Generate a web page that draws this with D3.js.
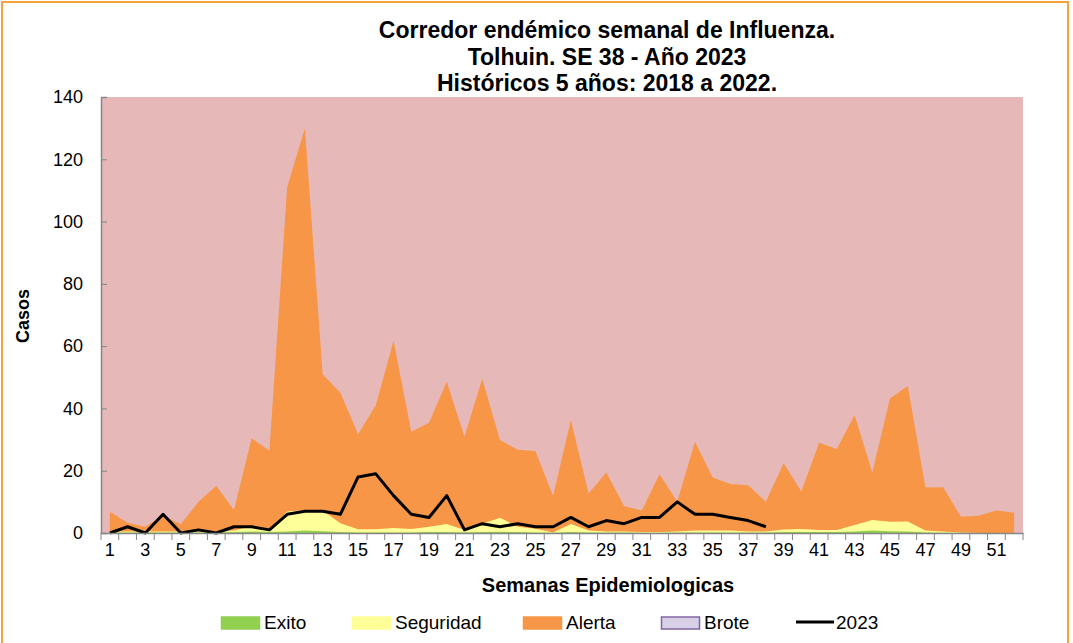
<!DOCTYPE html>
<html>
<head>
<meta charset="utf-8">
<script src="https://cdn.jsdelivr.net/npm/d3@7"></script>
<style>
  body { margin: 0; background: #fff; }
  svg { font-family: "Liberation Sans", Arial, sans-serif; }
</style>
</head>
<body>
<svg id="chart" width="1073" height="643"></svg>
<script>
// epidemiological weeks
var weeks = d3.range(1, 53);

// upper limits of each zone (historic 2018-2022)
var exito = [0.2, 0.2, 0.2, 0.2, 0.2, 0.2, 0.2, 0.3, 0.5, 0.3,
  0.5, 0.8, 0.6, 0.3, 0.2, 0.2, 0.2, 0.2, 0.3, 0.3,
  0.2, 0.3, 0.4, 0.3, 0.2, 0.1, 0.3, 0.2, 0.2, 0.2,
  0.1, 0.1, 0.2, 0.2, 0.2, 0.2, 0.2, 0.2, 0.3, 0.3,
  0.3, 0.3, 0.5, 0.8, 0.6, 0.5, 0.2, 0.1, 0.1, 0, 0, 0];
var seguridad = [0.5, 0.5, 0.5, 0.5, 0.5, 0.5, 0.5, 0.8, 2.2, 1.3,
  6.9, 7.4, 7.2, 3.1, 1.2, 1.2, 1.6, 1.3, 2.0, 2.9,
  1.0, 3.0, 4.9, 2.0, 1.4, 0.2, 2.9, 0.8, 0.5, 0.5,
  0.3, 0.3, 0.5, 0.8, 0.8, 0.8, 0.5, 0.5, 1.1, 1.3,
  1.0, 1.0, 2.6, 4.2, 3.6, 3.7, 0.8, 0.5, 0.2, 0, 0, 0];
var alerta = [6.8, 3.3, 2.0, 5.5, 2.8, 10, 15.1, 7.4, 30.4, 26.4,
  111, 130, 51, 45, 31.7, 41, 61.7, 32.5, 35.4, 48.6,
  30.9, 49.5, 29.9, 26.7, 26.3, 11.9, 36.3, 12.7, 19.4, 8.7,
  7.2, 18.9, 10, 29.3, 17.8, 15.7, 15.3, 10, 22.4, 13.3,
  29, 27, 37.9, 19.4, 43.2, 47.2, 14.6, 14.7, 5.2, 5.5, 7.2, 6.5];

// cases 2023 up to week 38
var casos2023 = [0, 2, 0, 6, 0, 1, 0, 2, 2, 1,
  6, 7, 7, 6, 18, 19, 12, 6, 5, 12,
  1, 3, 2, 3, 2, 2, 5, 2, 4, 3,
  5, 5, 10, 6, 6, 5, 4, 2];

var yTicks = [0, 20, 40, 60, 80, 100, 120, 140];

var titleLines = ["Corredor endémico semanal de Influenza.",
  "Tolhuin. SE 38 - Año 2023",
  "Históricos 5 años: 2018 a 2022."];

var legendItems = [
  {name: "Exito", type: "box", fill: "#92D050", stroke: "#92D050", x: 221},
  {name: "Seguridad", type: "box", fill: "#FFFF99", stroke: "#FFFF99", x: 352},
  {name: "Alerta", type: "box", fill: "#F79646", stroke: "#F79646", x: 523},
  {name: "Brote", type: "box", fill: "#D8D0E6", stroke: "#8064A2", x: 661},
  {name: "2023", type: "line", x: 796}
];

var svg = d3.select("#chart");

// set plot bounds
var plot = {left: 101, right: 1023, top: 97, bottom: 533};

var x = d3.scaleBand()
  .domain(weeks)
  .range([plot.left, plot.right])
  .padding(0);

var y = d3.scaleLinear()
  .domain([0, 140])
  .range([plot.bottom, plot.top]);

function cx(w) { return x(w) + x.bandwidth() / 2; }

// outer frame
svg.append("rect")
  .attr("x", 2).attr("y", 2)
  .attr("width", 1066).attr("height", 680)
  .attr("fill", "none")
  .attr("stroke", "#F5A23C")
  .attr("stroke-width", 2);

// plot background (brote zone)
svg.append("rect")
  .attr("x", plot.left).attr("y", plot.top)
  .attr("width", plot.right - plot.left)
  .attr("height", plot.bottom - plot.top)
  .attr("fill", "#E6B8B7");

// zone areas, drawn from largest to smallest
var zones = [
  {values: alerta, color: "#F79646"},
  {values: seguridad, color: "#FFFF99"},
  {values: exito, color: "#92D050"}
];

var area = d3.area()
  .x(function(d, i) { return cx(weeks[i]); })
  .y0(y(0))
  .y1(function(d) { return y(d); });

svg.selectAll(".zone")
  .data(zones)
  .enter()
  .append("path")
  .attr("class", "zone")
  .attr("d", function(d) { return area(d.values); })
  .attr("fill", function(d) { return d.color; });

// 2023 line
var line = d3.line()
  .x(function(d, i) { return cx(weeks[i]); })
  .y(function(d) { return y(d); });

svg.append("path")
  .datum(casos2023)
  .attr("d", line)
  .attr("fill", "none")
  .attr("stroke", "#000")
  .attr("stroke-width", 3)
  .attr("stroke-linejoin", "round");

// y axis, ticks pointing into the plot
var yAxis = svg.append("g")
  .attr("transform", "translate(" + plot.left + ",0)")
  .call(d3.axisLeft(y).tickValues(yTicks).tickSize(-6).tickPadding(18));
yAxis.select(".domain").attr("stroke", "#868686").attr("stroke-width", 1.5);
yAxis.selectAll(".tick line").attr("stroke", "#868686");
yAxis.selectAll(".tick text")
  .attr("font-size", 18)
  .attr("fill", "#000")
  .attr("font-family", "Liberation Sans, Arial, sans-serif");

// x axis: labels on odd weeks, ticks between categories
var xAxis = svg.append("g")
  .attr("transform", "translate(0," + plot.bottom + ")")
  .call(d3.axisBottom(x)
    .tickSize(0)
    .tickPadding(10)
    .tickFormat(function(d) { return d % 2 == 1 ? d : ""; }));
xAxis.select(".domain").attr("stroke", "#868686").attr("stroke-width", 1.5);
xAxis.selectAll(".tick text")
  .attr("font-size", 18)
  .attr("fill", "#000")
  .attr("font-family", "Liberation Sans, Arial, sans-serif");

var bounds = weeks.map(function(w) { return x(w); }).concat([plot.right]);
xAxis.selectAll(".bound")
  .data(bounds)
  .enter()
  .append("line")
  .attr("class", "bound")
  .attr("x1", function(d) { return d; })
  .attr("x2", function(d) { return d; })
  .attr("y1", 0)
  .attr("y2", 7)
  .attr("stroke", "#868686");

// titles
svg.selectAll(".title")
  .data(titleLines)
  .enter()
  .append("text")
  .attr("class", "title")
  .attr("x", 607)
  .attr("y", function(d, i) { return 38 + i * 26.5; })
  .attr("text-anchor", "middle")
  .attr("font-size", 23)
  .attr("font-weight", "bold")
  .text(function(d) { return d; });

svg.append("text")
  .attr("transform", "translate(29,316) rotate(-90)")
  .attr("text-anchor", "middle")
  .attr("font-size", 18)
  .attr("font-weight", "bold")
  .text("Casos");

svg.append("text")
  .attr("x", 608)
  .attr("y", 592)
  .attr("text-anchor", "middle")
  .attr("font-size", 20)
  .attr("font-weight", "bold")
  .text("Semanas Epidemiologicas");

// legend
var legend = svg.selectAll(".legend")
  .data(legendItems)
  .enter()
  .append("g")
  .attr("class", "legend")
  .attr("transform", function(d) { return "translate(" + d.x + ",622)"; });

legend.filter(function(d) { return d.type == "box"; })
  .append("rect")
  .attr("x", 0.5).attr("y", -5)
  .attr("width", 38).attr("height", 12)
  .attr("fill", function(d) { return d.fill; })
  .attr("stroke", function(d) { return d.stroke; })
  .attr("stroke-width", 1.5);

legend.filter(function(d) { return d.type == "line"; })
  .append("line")
  .attr("x1", 0).attr("x2", 38)
  .attr("y1", 0).attr("y2", 0)
  .attr("stroke", "#000")
  .attr("stroke-width", 3);

legend.append("text")
  .attr("x", function(d) { return d.type == "line" ? 40 : 43; })
  .attr("y", 6.5)
  .attr("font-size", 19)
  .text(function(d) { return d.name; });
</script>
</body>
</html>
